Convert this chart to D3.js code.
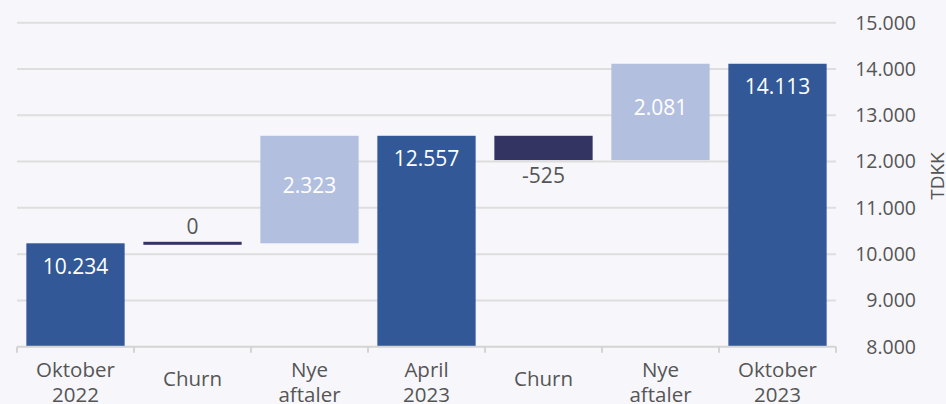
<!DOCTYPE html>
<html lang="da">
<head>
<meta charset="utf-8">
<title>Waterfall TDKK</title>
<style>
  html, body { margin: 0; padding: 0; background: #f7f7fb; }
  text { font-family: "Open Sans", sans-serif; }
</style>
</head>
<body>
<div id="chart"></div>
<script src="https://cdn.jsdelivr.net/npm/d3@7"></script>
<script>
// data
var labels = [["Oktober", "2022"], ["Churn"], ["Nye", "aftaler"], ["April", "2023"], ["Churn"], ["Nye", "aftaler"], ["Oktober", "2023"]];
var kinds  = ["total", "churn", "new", "total", "churn", "new", "total"];
var values = [10234, 0, 2323, 12557, -525, 2081, 14113];
var yTicks = [8000, 9000, 10000, 11000, 12000, 13000, 14000, 15000];

var width = 946, height = 404;
var colors = { total: "#325897", new: "#b3bfdf", churn: "#343463" };

var svg = d3.select("#chart").append("svg")
    .attr("width", width)
    .attr("height", height);

svg.append("rect").attr("width", width).attr("height", height).attr("fill", "#f7f7fb");

var x = d3.scaleBand()
    .domain(d3.range(values.length))
    .range([17, 836])
    .paddingInner(0.16)
    .paddingOuter(0.08);

var y = d3.scaleLinear()
    .domain([8000, 15000])
    .range([346.7, 22.7]);

var fmt = function(v) { return (v < 0 ? "-" : "") + d3.format(",")(Math.abs(v)).replace(/,/g, "."); };

// running totals -> bar start/end
var run = 0;
var bars = values.map(function(v, i) {
  var b;
  if (kinds[i] === "total") { b = { lo: y.domain()[0], hi: v }; run = v; }
  else { b = { lo: Math.min(run, run + v), hi: Math.max(run, run + v) }; run += v; }
  b.i = i; b.v = v; b.kind = kinds[i];
  return b;
});

// gridlines
svg.append("g").selectAll("line")
    .data(yTicks.slice(1))
  .enter().append("line")
    .attr("x1", 17).attr("x2", 836)
    .attr("y1", function(d) { return y(d); })
    .attr("y2", function(d) { return y(d); })
    .attr("stroke", "#dedede")
    .attr("stroke-width", 2);

// right axis labels
svg.append("g").selectAll("text")
    .data(yTicks)
  .enter().append("text")
    .attr("x", 916)
    .attr("y", function(d) { return y(d); })
    .attr("dy", "0.35em")
    .attr("text-anchor", "end")
    .attr("fill", "#555")
    .style("font-size", "19.5px")
    .text(fmt);

svg.append("text")
    .attr("transform", "translate(944,176) rotate(-90)")
    .attr("text-anchor", "middle")
    .attr("fill", "#555")
    .style("font-size", "19px")
    .text("TDKK");

// bars
svg.append("g").selectAll("rect")
    .data(bars)
  .enter().append("rect")
    .attr("x", function(d) { return x(d.i); })
    .attr("width", x.bandwidth())
    .attr("y", function(d) { return d.hi === d.lo ? y(d.hi) - 1.5 : y(d.hi); })
    .attr("height", function(d) { return d.hi === d.lo ? 3 : y(d.lo) - y(d.hi); })
    .attr("fill", function(d) { return colors[d.kind]; });

// bottom axis
var base = y.range()[0];
svg.append("line")
    .attr("x1", 17).attr("x2", 836)
    .attr("y1", base).attr("y2", base)
    .attr("stroke", "#d4d4d4").attr("stroke-width", 2);

var step = x.step();
svg.append("g").selectAll("line")
    .data(d3.range(values.length + 1))
  .enter().append("line")
    .attr("x1", function(d) { return 17 + d * step; })
    .attr("x2", function(d) { return 17 + d * step; })
    .attr("y1", base).attr("y2", base + 6)
    .attr("stroke", "#d4d4d4").attr("stroke-width", 2);

var cat = svg.append("g").selectAll("text")
    .data(labels)
  .enter().append("text")
    .attr("text-anchor", "middle")
    .attr("fill", "#555")
    .style("font-size", "20.5px");

cat.each(function(lines, i) {
  var t = d3.select(this);
  var cx = x(i) + x.bandwidth() / 2;
  var top = lines.length === 1 ? 379 : 370;
  lines.forEach(function(l, k) {
    t.append("tspan")
      .attr("x", cx)
      .attr("y", top + k * 25)
      .attr("dy", "0.35em")
      .text(l);
  });
});

// value labels
svg.append("g").selectAll("text")
    .data(bars)
  .enter().append("text")
    .attr("x", function(d) { return x(d.i) + x.bandwidth() / 2; })
    .attr("y", function(d) {
      if (d.kind === "total") return y(d.hi) + 23;
      if (d.kind === "new") return (y(d.hi) + y(d.lo)) / 2 - 4;
      return d.v < 0 ? y(d.lo) + 16 : y(d.hi) - 17;
    })
    .attr("dy", "0.35em")
    .attr("text-anchor", "middle")
    .attr("fill", function(d) { return d.kind === "churn" ? "#555" : "#fff"; })
    .style("font-size", "21px")
    .text(function(d) { return fmt(d.v); });
</script>
</body>
</html>
